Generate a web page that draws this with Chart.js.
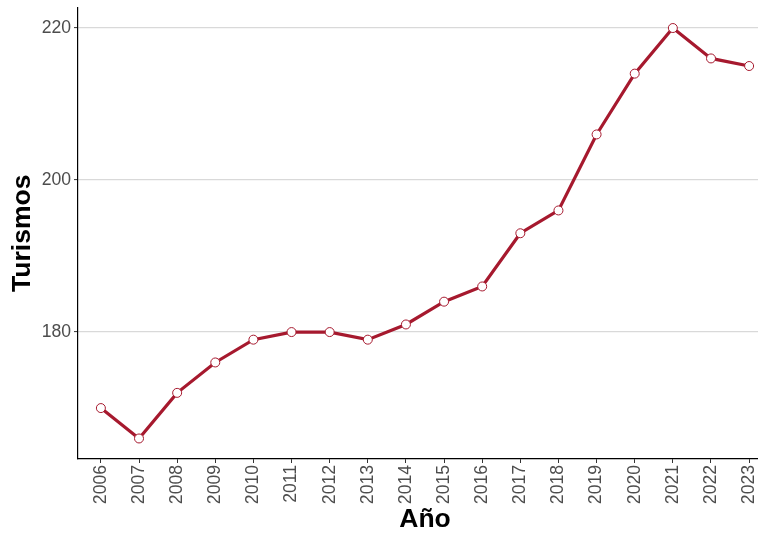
<!DOCTYPE html>
<html>
<head>
<meta charset="utf-8">
<script src="https://cdn.jsdelivr.net/npm/chart.js@4/dist/chart.umd.min.js"></script>
<style>
  html, body { margin: 0; padding: 0; background: #fff; overflow: hidden; }
  #wrap { position: relative; width: 780px; height: 533px; }
</style>
</head>
<body>
<div id="wrap"><canvas id="c"></canvas></div>
<script>
const years = ["2006","2007","2008","2009","2010","2011","2012","2013","2014","2015","2016","2017","2018","2019","2020","2021","2022","2023"];
const turismos = [170,166,172,176,179,180,180,179,181,184,186,193,196,206,214,220,216,215];
const yTicks = [180,200,220];

const color = '#a6192e';
const points = years.map((y, i) => ({ x: i, y: turismos[i] }));

new Chart(document.getElementById('c'), {
  type: 'line',
  data: {
    datasets: [{
      data: points,
      borderColor: color,
      borderWidth: 3.2,
      tension: 0,
      pointRadius: 4.5,
      pointBorderWidth: 1,
      pointBorderColor: color,
      pointBackgroundColor: '#ffffff',
      clip: false
    }]
  },
  options: {
    responsive: true,
    maintainAspectRatio: false,
    animation: false,
    events: [],
    layout: { padding: { top: 7.5, right: 8, left: 0, bottom: 0 } },
    plugins: { legend: { display: false }, tooltip: { enabled: false } },
    scales: {
      x: {
        type: 'linear',
        min: -0.6,
        max: 17.6,
        afterBuildTicks: (s) => { s.ticks = years.map((y, i) => ({ value: i })); },
        afterFit: (s) => { s.height = 74; s.paddingLeft = 0; s.paddingRight = 0; },
        ticks: {
          autoSkip: false,
          minRotation: 90,
          maxRotation: 90,
          padding: 2,
          color: '#4d4d4d',
          font: { family: 'Liberation Sans', size: 17.6 },
          callback: (v) => years[v]
        },
        grid: { drawOnChartArea: false, drawTicks: true, tickLength: 4, tickColor: '#333333', tickWidth: 1 },
        border: { display: true, color: '#000000', width: 1.2 },
        title: {
          display: true,
          text: 'Año',
          color: '#000000',
          font: { family: 'Liberation Sans', size: 26.5, weight: 'bold', lineHeight: 1 },
          padding: { top: 0, bottom: 0 }
        }
      },
      y: {
        type: 'linear',
        min: 163.3,
        max: 222.7,
        afterBuildTicks: (s) => { s.ticks = yTicks.map(v => ({ value: v })); },
        afterFit: (s) => { s.width = 78; s.paddingTop = 0; s.paddingBottom = 0; },
        ticks: {
          padding: 3,
          color: '#4d4d4d',
          font: { family: 'Liberation Sans', size: 17.6 }
        },
        grid: { color: '#d9d9d9', lineWidth: 1.2, drawTicks: true, tickLength: 4, tickColor: '#333333', tickWidth: 1 },
        border: { display: true, color: '#000000', width: 1.2 },
        title: {
          display: true,
          text: 'Turismos',
          color: '#000000',
          font: { family: 'Liberation Sans', size: 26.5, weight: 'bold' },
          padding: { top: 7, bottom: 0 }
        }
      }
    }
  }
});
</script>
</body>
</html>
